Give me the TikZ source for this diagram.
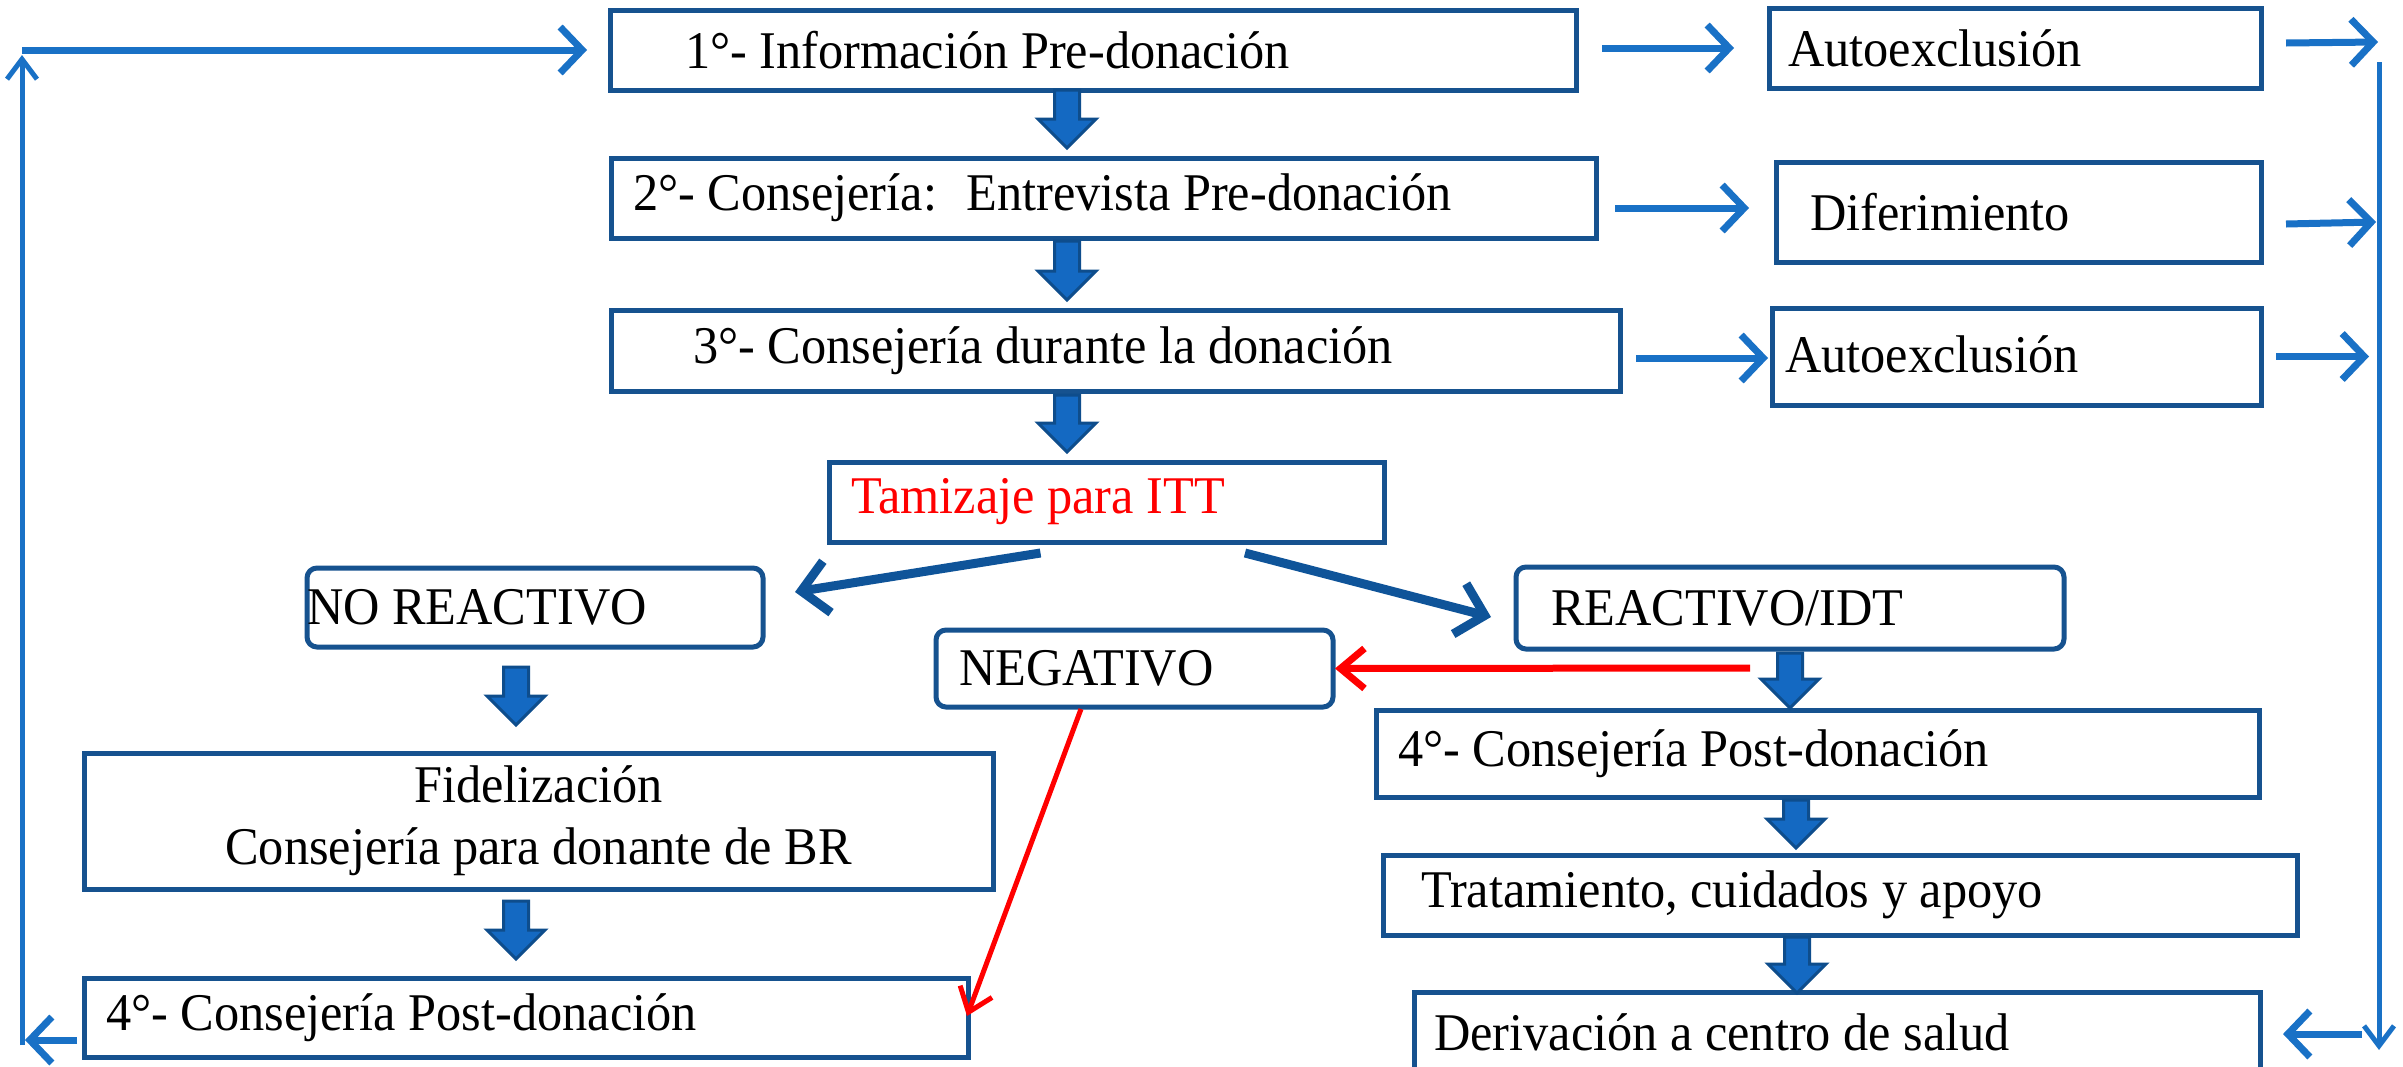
\documentclass[tikz,border=0pt]{standalone}
\usepackage{fontspec}
\setmainfont{Liberation Serif}[FakeStretch=0.95]
\usetikzlibrary{arrows.meta,calc}
\definecolor{boxblue}{HTML}{16528F}
\definecolor{arrblue}{HTML}{1971C6}
\definecolor{darkarr}{HTML}{0F5499}
\definecolor{bfill}{HTML}{1469C2}
\definecolor{bline}{HTML}{0E4D8C}
\newcommand{\tb}[3]{\makebox[#1pt][l]{\hspace*{#2pt}#3}}
\newcommand{\blockarr}[3]{%
  \draw[bigarrow] (#1-12.5,#2) -- (#1+12.5,#2) -- (#1+12.5,#3-29) -- (#1+29,#3-29)
    -- (#1,#3) -- (#1-29,#3-29) -- (#1-12.5,#3-29) -- cycle;}
\tikzset{
  box/.style={draw=boxblue, line width=5pt, anchor=north west, inner sep=0pt,
    outer sep=0pt, fill=white, font=\fontsize{53}{62}\selectfont},
  rbox/.style={box, rounded corners=10pt},
  thinarr/.style={draw=arrblue, line width=7pt, -{Straight Barb[length=22pt,width=46pt]}},
  vline/.style={draw=arrblue, line width=5pt, -{Straight Barb[length=20pt,width=30pt]}},
  diagarr/.style={draw=darkarr, line width=9pt, -{Straight Barb[length=26pt,width=52pt]}},
  redarr/.style={draw=red, line width=7pt, -{Straight Barb[length=24pt,width=40pt]}},
  redthin/.style={draw=red, line width=5pt, -{Straight Barb[length=22pt,width=34pt]}},
  bigarrow/.style={draw=bline, fill=bfill, line width=3pt, line join=miter}
}
\begin{document}
\begin{tikzpicture}[x=1pt,y=-1pt]
\useasboundingbox[fill=white] (0,0) rectangle (2403,1066);
% boxes
\node[box, minimum width=966pt, minimum height=80pt] (b1) at (610,10)
  {\tb{966}{75}{1°- Información Pre-donación}};
\node[box, minimum width=492pt, minimum height=80pt] (a1) at (1769,8)
  {\tb{492}{19}{Autoexclusión}};
\node[box, minimum width=985pt, minimum height=80pt] (b2) at (611,158)
  {\tb{985}{22}{2°- Consejería:~ Entrevista Pre-donación}};
\node[box, minimum width=485pt, minimum height=100pt] (a2) at (1776,162)
  {\tb{485}{34}{\raisebox{-8pt}{Diferimiento}}};
\node[box, minimum width=1009pt, minimum height=81pt] (b3) at (611,310)
  {\tb{1009}{82}{3°- Consejería durante la donación}};
\node[box, minimum width=489pt, minimum height=97pt] (a3) at (1772,308)
  {\tb{489}{13}{\raisebox{4pt}{Autoexclusión}}};
\node[box, minimum width=555pt, minimum height=80pt] (tz) at (829,462)
  {\tb{555}{22}{\textcolor{red}{Tamizaje para ITT}}};
\node[rbox, minimum width=456pt, minimum height=79pt] (nr) at (307,568)
  {\tb{456}{0}{NO REACTIVO}};
\node[rbox, minimum width=548pt, minimum height=82pt] (re) at (1516,567)
  {\tb{548}{35}{REACTIVO/IDT}};
\node[rbox, minimum width=397pt, minimum height=77pt] (ng) at (936,630)
  {\tb{397}{23}{NEGATIVO}};
\node[box, minimum width=909pt, minimum height=136pt, align=center] (fi) at (84,753)
  {Fidelización\\Consejería para donante de BR};
\node[box, minimum width=884pt, minimum height=79pt] (p4l) at (84,978)
  {\tb{884}{22}{4°- Consejería Post-donación}};
\node[box, minimum width=883pt, minimum height=87pt] (p4r) at (1376,710)
  {\tb{883}{22}{4°- Consejería Post-donación}};
\node[box, minimum width=914pt, minimum height=80pt] (tr) at (1383,855)
  {\tb{914}{38}{Tratamiento, cuidados y apoyo}};
\node[box, minimum width=846pt, minimum height=80pt] (de) at (1414,992)
  {\tb{846}{20}{Derivación a centro de salud}};
% block arrows
\blockarr{1067}{90}{148}
\blockarr{1067}{241}{300}
\blockarr{1067}{395}{452}
\blockarr{516}{667}{725}
\blockarr{516}{901}{959}
\blockarr{1790}{653}{708}
\blockarr{1796}{800}{848}
\blockarr{1797}{937}{993}
% side arrows
\draw[thinarr] ($(b1.east)+(26,-2)$) -- ($(a1.west)+(-35,0)$);
\draw[thinarr] ($(b2.east)+(19,10)$) -- ($(a2.west)+(-27,-4)$);
\draw[thinarr] ($(b3.east)+(16,7.5)$) -- ($(a3.west)+(-4,1.5)$);
\coordinate (rtop) at (2379,62);
\coordinate (rbot) at (2379,1050);
\draw[vline] (rtop) -- (rbot);
\draw[thinarr] ($(a1.east)+(25,-5)$) -- ($(a1.east)+(117,-6)$);
\draw[thinarr] ($(a2.east)+(25,12)$) -- ($(a2.east)+(115,10)$);
\draw[thinarr] ($(a3.east)+(15,0)$) -- ($(a3.east)+(108,0)$);
\draw[thinarr] ($(de.east)+(102,2)$) -- ($(de.east)+(23,2)$);
% left loop
\coordinate (lbot) at (22,1045);
\coordinate (ltop) at (22,55);
\coordinate (lcorner) at (22,50);
\draw[vline] (lbot) -- (ltop);
\draw[thinarr] (lcorner) -- ($(b1.west)+(-23,0)$);
\draw[thinarr] ($(p4l.west)+(-7,22.5)$) -- ($(p4l.west)+(-59,22.5)$);
% screening branches
\draw[diagarr] ($(tz.south)+(-66,11)$) -- ($(nr.east)+(32,-15.5)$);
\draw[diagarr] ($(tz.south)+(138.5,11)$) -- ($(re.west)+(-25,9)$);
\draw[redarr] ($(re.south)+(-40,19)$) -- ($(ng.east)+(2,0)$);
\draw[redthin] ($(ng.south)+(-53.5,2)$) -- ($(p4l.east)+(-1,-1.5)$);
\end{tikzpicture}
\end{document}
